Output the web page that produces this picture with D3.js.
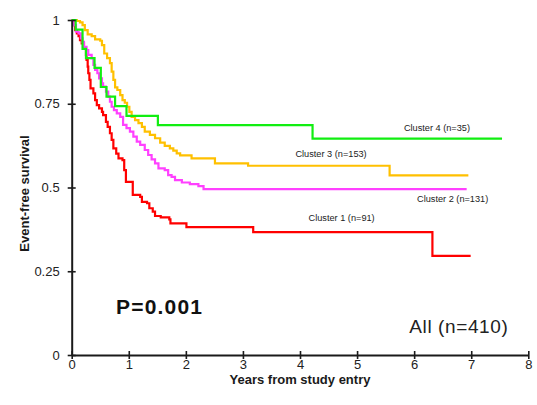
<!DOCTYPE html>
<html>
<head>
<meta charset="utf-8">
<script src="https://cdn.jsdelivr.net/npm/d3@7"></script>
<style>
  html, body { margin: 0; padding: 0; background: #fff; }
  svg { display: block; font-family: "Liberation Sans", Arial, sans-serif; }
</style>
</head>
<body>
<svg id="chart" width="537" height="405"></svg>
<script>
// Kaplan-Meier event-free survival by cluster (step points: time in years, survival fraction)
const cluster1Times = [0, 0.03, 0.06, 0.09, 0.12, 0.145, 0.175, 0.215, 0.25, 0.26, 0.28, 0.29, 0.31, 0.33, 0.38, 0.41, 0.44, 0.48, 0.53, 0.55, 0.60, 0.63, 0.67, 0.70, 0.73, 0.78, 0.82, 0.89, 0.92, 0.95, 1.07, 1.20, 1.23, 1.32, 1.36, 1.42, 1.46, 1.56, 1.71, 1.73, 2.01, 3.18, 6.32, 6.99];
const cluster1Surv  = [1, 0.985, 0.970, 0.960, 0.952, 0.940, 0.930, 0.916, 0.896, 0.881, 0.861, 0.841, 0.821, 0.796, 0.781, 0.761, 0.746, 0.736, 0.726, 0.716, 0.696, 0.681, 0.662, 0.642, 0.617, 0.601, 0.587, 0.582, 0.552, 0.517, 0.478, 0.472, 0.457, 0.453, 0.438, 0.428, 0.415, 0.411, 0.405, 0.393, 0.382, 0.367, 0.296, 0.296];

const cluster2Times = [0, 0.03, 0.075, 0.12, 0.16, 0.19, 0.215, 0.26, 0.29, 0.35, 0.38, 0.41, 0.45, 0.48, 0.53, 0.55, 0.60, 0.64, 0.67, 0.70, 0.74, 0.79, 0.85, 0.90, 0.96, 1.02, 1.08, 1.14, 1.20, 1.28, 1.34, 1.40, 1.46, 1.52, 1.63, 1.69, 1.75, 1.81, 1.93, 2.07, 2.22, 2.31, 6.92];
const cluster2Surv  = [1, 0.985, 0.965, 0.960, 0.945, 0.935, 0.920, 0.910, 0.896, 0.886, 0.866, 0.851, 0.841, 0.826, 0.811, 0.801, 0.786, 0.771, 0.756, 0.741, 0.731, 0.721, 0.711, 0.687, 0.677, 0.667, 0.652, 0.637, 0.627, 0.612, 0.597, 0.584, 0.572, 0.557, 0.552, 0.537, 0.532, 0.522, 0.515, 0.510, 0.504, 0.495, 0.495];

const cluster3Times = [0, 0.09, 0.145, 0.19, 0.23, 0.28, 0.35, 0.41, 0.50, 0.53, 0.57, 0.62, 0.67, 0.70, 0.73, 0.76, 0.80, 0.85, 0.89, 0.93, 0.97, 1.01, 1.05, 1.11, 1.17, 1.23, 1.28, 1.37, 1.46, 1.55, 1.63, 1.72, 1.78, 1.84, 1.90, 2.10, 2.51, 3.09, 5.57, 6.95];
const cluster3Surv  = [1, 0.997, 0.993, 0.985, 0.970, 0.957, 0.952, 0.942, 0.938, 0.925, 0.900, 0.886, 0.871, 0.846, 0.821, 0.799, 0.791, 0.776, 0.761, 0.753, 0.741, 0.726, 0.711, 0.701, 0.692, 0.681, 0.667, 0.657, 0.647, 0.634, 0.624, 0.617, 0.610, 0.602, 0.596, 0.587, 0.572, 0.565, 0.536, 0.536];

const cluster4Times = [0, 0.07, 0.19, 0.25, 0.40, 0.51, 0.61, 0.76, 0.96, 1.51, 4.22, 7.54];
const cluster4Surv  = [1, 0.971, 0.914, 0.886, 0.857, 0.800, 0.771, 0.743, 0.714, 0.686, 0.646, 0.646];

const clusterNames = ["Cluster 1 (n=91)", "Cluster 2 (n=131)", "Cluster 3 (n=153)", "Cluster 4 (n=35)"];
const clusterColors = ["#ff0000", "#ff40ff", "#ffc000", "#11ee11"];

const xTicks = [0, 1, 2, 3, 4, 5, 6, 7, 8];
const yTicks = [0, 0.25, 0.5, 0.75, 1];
const yTickLabels = ["0", "0.25", "0.5", "0.75", "1"];

const svg = d3.select("#chart");
const x = d3.scaleLinear().domain([0, 8]).range([71.7, 528.3]);
const y = d3.scaleLinear().domain([0, 1]).range([355, 20]);

const series = [
  cluster1Times.map((t, i) => [t, cluster1Surv[i]]),
  cluster2Times.map((t, i) => [t, cluster2Surv[i]]),
  cluster3Times.map((t, i) => [t, cluster3Surv[i]]),
  cluster4Times.map((t, i) => [t, cluster4Surv[i]])
];

const line = d3.line()
  .x(d => x(d[0]))
  .y(d => y(d[1]))
  .curve(d3.curveStepAfter);

// survival curves (drawn low-to-high so green ends on top)
svg.append("g").selectAll("path")
  .data(series)
  .join("path")
  .attr("d", d => line(d))
  .attr("fill", "none")
  .attr("stroke", (d, i) => clusterColors[i])
  .attr("stroke-width", 2.2)
  .attr("stroke-linejoin", "miter");

// axes
const axisColor = "#1a1a1a";
const yAxis = svg.append("g")
  .attr("transform", `translate(${x(0)},0)`)
  .call(d3.axisLeft(y).tickValues(yTicks).tickFormat((d, i) => yTickLabels[i])
        .tickSizeInner(4).tickSizeOuter(0).tickPadding(8));
const xAxis = svg.append("g")
  .attr("transform", `translate(0,${y(0)})`)
  .call(d3.axisBottom(x).tickValues(xTicks).tickFormat(d3.format("d"))
        .tickSizeInner(4).tickSizeOuter(0).tickPadding(1));

[yAxis, xAxis].forEach(g => {
  g.select(".domain").attr("stroke", axisColor).attr("stroke-width", 2);
  g.selectAll(".tick text").attr("font-size", 13).attr("fill", "#222")
    .attr("font-family", "'Liberation Sans', Arial, sans-serif");
});
yAxis.selectAll(".tick line").attr("x1", -4).attr("x2", 4).attr("stroke", axisColor).attr("stroke-width", 1.6);
xAxis.selectAll(".tick line").attr("y1", -4).attr("y2", 4).attr("stroke", axisColor).attr("stroke-width", 1.6);

// axis titles
svg.append("text")
  .attr("transform", `translate(24,${(y(0) + y(1)) / 2 + 6}) rotate(-90)`)
  .attr("text-anchor", "middle")
  .attr("dy", "0.35em")
  .attr("font-size", 13).attr("font-weight", "bold").attr("fill", "#1a1a1a")
  .text("Event-free survival");

svg.append("text")
  .attr("x", (x(0) + x(8)) / 2)
  .attr("y", 384)
  .attr("text-anchor", "middle")
  .attr("font-size", 13).attr("font-weight", "bold").attr("fill", "#1a1a1a")
  .text("Years from study entry");

// curve labels placed in data coordinates
const labelAnchors = [[4.15, 0.401], [6.05, 0.458], [3.92, 0.590], [5.82, 0.670]];
svg.append("g").selectAll("text")
  .data(clusterNames)
  .join("text")
  .attr("x", (d, i) => x(labelAnchors[i][0]))
  .attr("y", (d, i) => y(labelAnchors[i][1]))
  .attr("font-size", 9.2).attr("fill", "#222")
  .text(d => d);

// p-value and cohort size annotations
svg.append("text")
  .attr("x", 116).attr("y", 314)
  .attr("font-size", 21).attr("font-weight", "bold").attr("letter-spacing", 1.2)
  .attr("fill", "#111")
  .text("P=0.001");

svg.append("text")
  .attr("x", 409.3).attr("y", 332.7)
  .attr("font-size", 19).attr("letter-spacing", 0.6)
  .attr("fill", "#222")
  .text("All (n=410)");
</script>
</body>
</html>
